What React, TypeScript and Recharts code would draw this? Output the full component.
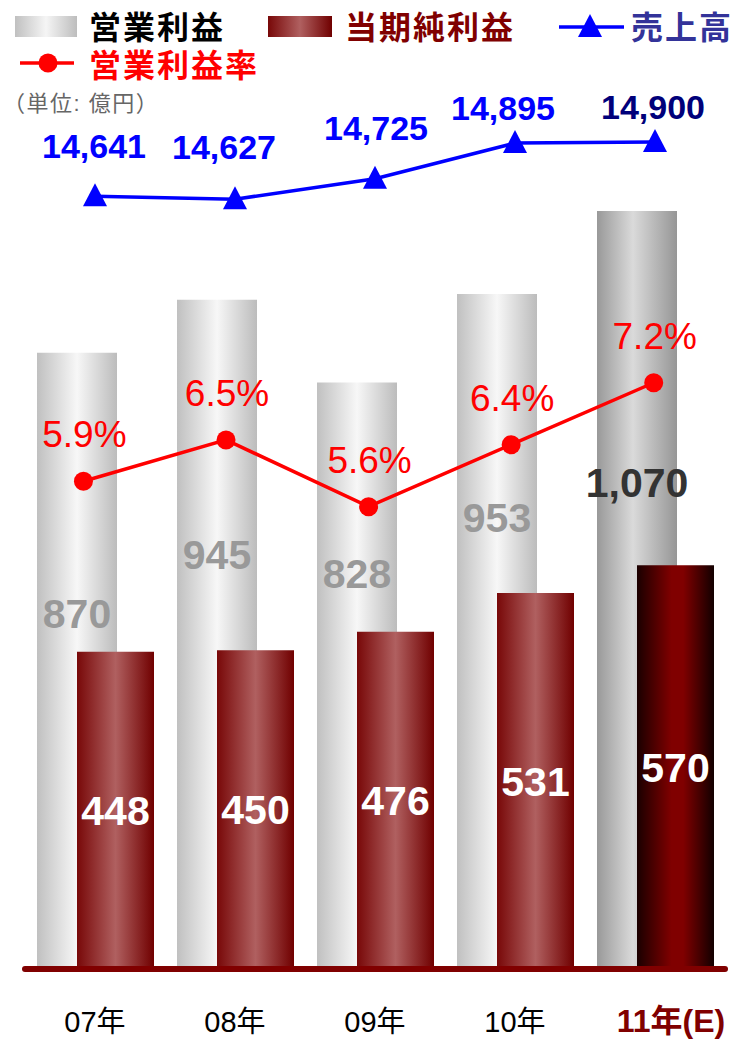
import { ComposedChart, Bar, Line, XAxis, YAxis, Cell, LabelList } from "recharts";

const years = ["07年", "08年", "09年", "10年", "11年(E)"];
const operatingProfit = [870, 945, 828, 953, 1070];
const netProfit = [448, 450, 476, 531, 570];
const sales = [14641, 14627, 14725, 14895, 14900];
const operatingMargin = [5.94, 6.46, 5.62, 6.4, 7.18];
const marginLabels = ["5.9%", "6.5%", "5.6%", "6.4%", "7.2%"];

// label placement tweaks (style only)
const grossLabelDrop = [261, 255, 191, 223, 271];
const salesLabelShift = [
  [-1, -50],
  [-11, -52],
  [1, -51],
  [-12, -35],
  [-2, -35],
];

const FONT = '"Liberation Sans", Arial, "Noto Sans CJK JP", sans-serif';

const data = years.map((year, i) => ({
  year,
  idx: i,
  op: operatingProfit[i],
  net: netProfit[i],
  sales: sales[i],
  margin: operatingMargin[i],
}));

const YearTick = (props: any) => {
  const { x, y, payload, index } = props;
  const last = index === years.length - 1;
  return (
    <text
      x={x + (last ? 16 : 0)}
      y={y + 63}
      textAnchor="middle"
      fontSize={last ? 32 : 29}
      fontFamily={FONT}
      fontWeight={last ? "bold" : "normal"}
      fill={last ? "#800000" : "#000"}
    >
      {payload.value}
    </text>
  );
};

const GrossLabel = (props: any) => {
  const { x, y, width, index, value } = props;
  const size = 41;
  return (
    <text
      x={x + width / 2}
      y={y + grossLabelDrop[index] + size * 0.358}
      textAnchor="middle"
      fontSize={size}
      fontWeight="bold"
      fontFamily={FONT}
      fill={index === 4 ? "#333333" : "#999999"}
    >
      {Number(value).toLocaleString("en-US")}
    </text>
  );
};

const NetLabel = (props: any) => {
  const { x, y, width, height, value } = props;
  const size = 41;
  return (
    <text
      x={x + width / 2}
      y={y + height / 2 + size * 0.358}
      textAnchor="middle"
      fontSize={size}
      fontWeight="bold"
      fontFamily={FONT}
      fill="#ffffff"
    >
      {value}
    </text>
  );
};

const SalesLabel = (props: any) => {
  const { x, y, index, value } = props;
  const size = 34;
  const [dx, dy] = salesLabelShift[index];
  return (
    <text
      x={x + dx}
      y={y + dy + size * 0.358}
      textAnchor="middle"
      fontSize={size}
      fontWeight="bold"
      fontFamily={FONT}
      fill={index === 4 ? "#00007a" : "#0000ff"}
    >
      {Number(value).toLocaleString("en-US")}
    </text>
  );
};

const MarginLabel = (props: any) => {
  const { x, y, index } = props;
  const size = 37;
  return (
    <text
      x={x + 1}
      y={y - 47 + size * 0.358}
      textAnchor="middle"
      fontSize={size}
      fontFamily={FONT}
      fill="#ff0000"
    >
      {marginLabels[index]}
    </text>
  );
};

const TriangleDot = (props: any) => {
  const { cx, cy, index } = props;
  return (
    <polygon
      key={`tri-${index}`}
      points={`${cx},${cy - 13} ${cx - 12},${cy + 10} ${cx + 12},${cy + 10}`}
      fill="#0000ff"
    />
  );
};

function LegendBox() {
  const big = { fontSize: 32, fontWeight: "bold" as const, fontFamily: FONT, style: { letterSpacing: 2 } };
  return (
    <svg
      width={736}
      height={120}
      style={{ position: "absolute", left: 0, top: 0, pointerEvents: "none" }}
    >
      <defs>
        <linearGradient id="lgGray" x1="0" y1="0" x2="1" y2="0">
          <stop offset="0%" stopColor="#c0c0c0" />
          <stop offset="50%" stopColor="#f5f5f5" />
          <stop offset="100%" stopColor="#bdbdbd" />
        </linearGradient>
        <linearGradient id="lgRed" x1="0" y1="0" x2="1" y2="0">
          <stop offset="0%" stopColor="#780808" />
          <stop offset="50%" stopColor="#b06060" />
          <stop offset="100%" stopColor="#700000" />
        </linearGradient>
      </defs>
      <rect x={15} y={16} width={62} height={21} fill="url(#lgGray)" />
      <text x={89} y={39} fill="#000" {...big}>
        営業利益
      </text>
      <rect x={268} y={16} width={64} height={21} fill="url(#lgRed)" />
      <text x={345} y={39} fill="#800000" {...big}>
        当期純利益
      </text>
      <line x1={559} y1={27} x2={624} y2={27} stroke="#0000ff" strokeWidth={3.5} />
      <polygon points="590,14 578,37 602,37" fill="#0000ff" />
      <text x={631} y={39} fill="#333399" {...big}>
        売上高
      </text>
      <line x1={20} y1={63} x2={74} y2={63} stroke="#ff0000" strokeWidth={3.5} />
      <circle cx={48} cy={63} r={9.5} fill="#ff0000" />
      <text x={89} y={77} fill="#ff0000" {...big}>
        営業利益率
      </text>
      <text x={3} y={111} fontSize={22} fontFamily={FONT} fill="#666666" style={{ letterSpacing: 1.5 }}>
        （単位: 億円）
      </text>
    </svg>
  );
}

export default function App() {
  return (
    <div style={{ position: "absolute", left: 0, top: 0, width: 736, height: 1042, background: "#fff" }}>
      <ComposedChart
        width={736}
        height={1042}
        data={data}
        margin={{ top: 119, right: 11, bottom: 13, left: 25 }}
        barGap={-40}
      >
        <defs>
          <linearGradient id="gGray" x1="0" y1="0" x2="1" y2="0">
            <stop offset="0%" stopColor="#c0c0c0" />
            <stop offset="50%" stopColor="#f7f7f7" />
            <stop offset="100%" stopColor="#bcbcbc" />
          </linearGradient>
          <linearGradient id="gGrayDark" x1="0" y1="0" x2="1" y2="0">
            <stop offset="0%" stopColor="#999999" />
            <stop offset="45%" stopColor="#dadada" />
            <stop offset="100%" stopColor="#969696" />
          </linearGradient>
          <linearGradient id="gRed" x1="0" y1="0" x2="1" y2="0">
            <stop offset="0%" stopColor="#780808" />
            <stop offset="50%" stopColor="#b06060" />
            <stop offset="100%" stopColor="#700000" />
          </linearGradient>
          <linearGradient id="gRedDark" x1="0" y1="0" x2="1" y2="0">
            <stop offset="0%" stopColor="#1a0000" />
            <stop offset="45%" stopColor="#800000" />
            <stop offset="60%" stopColor="#800000" />
            <stop offset="100%" stopColor="#120000" />
          </linearGradient>
        </defs>
        <YAxis yAxisId="bar" domain={[0, 1200]} hide allowDataOverflow />
        <YAxis yAxisId="sales" domain={[10950, 15010]} hide allowDataOverflow />
        <YAxis yAxisId="pct" domain={[-0.2, 10.5]} hide allowDataOverflow />
        <XAxis
          xAxisId="idx"
          dataKey="idx"
          type="number"
          domain={[-0.41, 4.5]}
          hide
          allowDataOverflow
        />
        <Bar xAxisId="cat" yAxisId="bar" dataKey="op" barSize={80} isAnimationActive={false}>
          {data.map((d, i) => (
            <Cell key={d.year} fill={i === 4 ? "url(#gGrayDark)" : "url(#gGray)"} />
          ))}
          <LabelList dataKey="op" content={GrossLabel} />
        </Bar>
        <Bar xAxisId="cat" yAxisId="bar" dataKey="net" barSize={77} isAnimationActive={false}>
          {data.map((d, i) => (
            <Cell key={d.year} fill={i === 4 ? "url(#gRedDark)" : "url(#gRed)"} />
          ))}
          <LabelList dataKey="net" content={NetLabel} />
        </Bar>
        <XAxis
          xAxisId="cat"
          dataKey="year"
          height={60}
          interval={0}
          tickLine={false}
          tickSize={0}
          tickMargin={0}
          axisLine={{ stroke: "#800000", strokeWidth: 6, strokeLinecap: "round" }}
          tick={YearTick}
        />
        <Line
          xAxisId="cat"
          yAxisId="sales"
          dataKey="sales"
          stroke="#0000ff"
          strokeWidth={3.5}
          dot={TriangleDot}
          activeDot={false}
          isAnimationActive={false}
        >
          <LabelList dataKey="sales" content={SalesLabel} />
        </Line>
        <Line
          xAxisId="idx"
          yAxisId="pct"
          dataKey="margin"
          stroke="#ff0000"
          strokeWidth={3.5}
          dot={{ r: 9.5, fill: "#ff0000", stroke: "none" }}
          activeDot={false}
          isAnimationActive={false}
        >
          <LabelList dataKey="margin" content={MarginLabel} />
        </Line>
      </ComposedChart>
      <LegendBox />
    </div>
  );
}
